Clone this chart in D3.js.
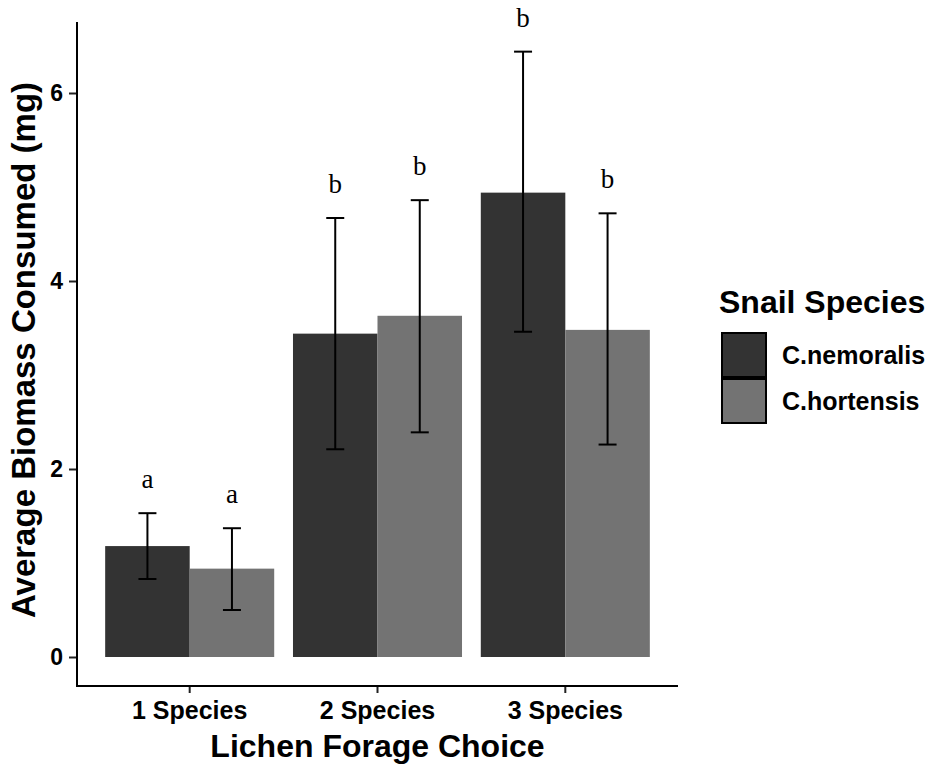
<!DOCTYPE html>
<html lang="en">
<head>
<meta charset="UTF-8">
<title>Snail biomass</title>
<script src="https://d3js.org/d3.v7.min.js"></script>
<style>
    body { margin: 0; background: #fff; }
    text { font-family: "Liberation Sans", Arial, sans-serif; }
</style>
</head>
<body>
<script>
// data
const categories = ['1 Species', '2 Species', '3 Species'];
const species = ['C.nemoralis', 'C.hortensis'];
const means = [[1.18, 0.94], [3.44, 3.63], [4.94, 3.48]];
const lower = [[0.83, 0.50], [2.21, 2.39], [3.46, 2.26]];
const upper = [[1.53, 1.37], [4.67, 4.86], [6.44, 4.72]];
const letters = [['a', 'a'], ['b', 'b'], ['b', 'b']];
const yTicks = [0, 2, 4, 6];
const colors = ['#333333', '#737373'];

const W = 932, H = 765;
const mLeft = 77, mRight = 678, mTop = 22, mBottom = 686;

const svg = d3.select('body').append('svg')
    .attr('width', W).attr('height', H);

const y = d3.scaleLinear().domain([0, 6]).range([657, 93]);
const x = d3.scaleBand().domain(categories).range([mLeft, mRight])
    .paddingInner(0.1).paddingOuter(0.15);
// inner band for the two species
const xs = d3.scaleBand().domain(species).range([0, x.bandwidth()]);

const rows = [];
categories.forEach((c, i) => species.forEach((s, j) => {
    rows.push({ c, s, j, m: means[i][j], lo: lower[i][j], hi: upper[i][j], lab: letters[i][j] });
}));

svg.append('g').selectAll('rect').data(rows).enter().append('rect')
    .attr('x', d => x(d.c) + xs(d.s))
    .attr('width', xs.bandwidth())
    .attr('y', d => y(d.m))
    .attr('height', d => y(0) - y(d.m))
    .attr('fill', d => colors[d.j]);

// error bars
const eb = svg.append('g').attr('stroke', '#000').attr('stroke-width', 2);
rows.forEach(d => {
    const cx = x(d.c) + xs(d.s) + xs.bandwidth() / 2;
    eb.append('line').attr('x1', cx).attr('x2', cx).attr('y1', y(d.lo)).attr('y2', y(d.hi));
    eb.append('line').attr('x1', cx - 9).attr('x2', cx + 9).attr('y1', y(d.lo)).attr('y2', y(d.lo));
    eb.append('line').attr('x1', cx - 9).attr('x2', cx + 9).attr('y1', y(d.hi)).attr('y2', y(d.hi));
});

svg.append('g').selectAll('text').data(rows).enter().append('text')
    .attr('x', d => x(d.c) + xs(d.s) + xs.bandwidth() / 2)
    .attr('y', d => y(d.hi) - 25)
    .attr('text-anchor', 'middle')
    .style('font-family', '"Liberation Serif", "Times New Roman", serif')
    .style('font-size', '27px')
    .text(d => d.lab);

// axes
const yAxis = svg.append('g').attr('transform', `translate(${mLeft},0)`)
    .call(d3.axisLeft(y).tickValues(yTicks).tickFormat(d3.format('d')).tickSize(8).tickPadding(6));
const xAxis = svg.append('g').attr('transform', `translate(0,${mBottom})`)
    .call(d3.axisBottom(x).tickSize(7).tickPadding(8));
[yAxis, xAxis].forEach(g => {
    g.select('.domain').remove();
    g.selectAll('line').attr('stroke', '#222').attr('stroke-width', 2);
    g.selectAll('text').attr('fill', '#000').style('font-weight', 'bold')
        .style('font-family', '"Liberation Sans", Arial, sans-serif');
});
yAxis.selectAll('text').style('font-size', '23px');
xAxis.selectAll('text').style('font-size', '25px');

svg.append('line').attr('x1', mLeft).attr('x2', mLeft).attr('y1', mTop).attr('y2', mBottom + 1)
    .attr('stroke', '#000').attr('stroke-width', 2);
svg.append('line').attr('x1', mLeft - 1).attr('x2', mRight).attr('y1', mBottom).attr('y2', mBottom)
    .attr('stroke', '#000').attr('stroke-width', 2);

// titles
svg.append('text')
    .attr('transform', `translate(35,350) rotate(-90)`)
    .attr('text-anchor', 'middle')
    .style('font-size', '33px').style('font-weight', 'bold')
    .text('Average Biomass Consumed (mg)');
svg.append('text')
    .attr('x', (mLeft + mRight) / 2).attr('y', 757)
    .attr('text-anchor', 'middle')
    .style('font-size', '32px').style('font-weight', 'bold')
    .text('Lichen Forage Choice');

// legend
const lg = svg.append('g').attr('transform', 'translate(721,332)');
lg.append('text').attr('x', -2).attr('y', -19)
    .style('font-size', '32px').style('font-weight', 'bold')
    .text('Snail Species');
species.forEach((s, j) => {
    lg.append('rect').attr('x', 1).attr('y', 1 + j * 46).attr('width', 44).attr('height', 44)
        .attr('fill', colors[j]).attr('stroke', '#000').attr('stroke-width', 2);
    lg.append('text').attr('x', 61).attr('y', 23 + j * 46).attr('dy', '0.35em')
        .style('font-size', '25px').style('font-weight', 'bold')
        .text(s);
});
</script>
</body>
</html>
